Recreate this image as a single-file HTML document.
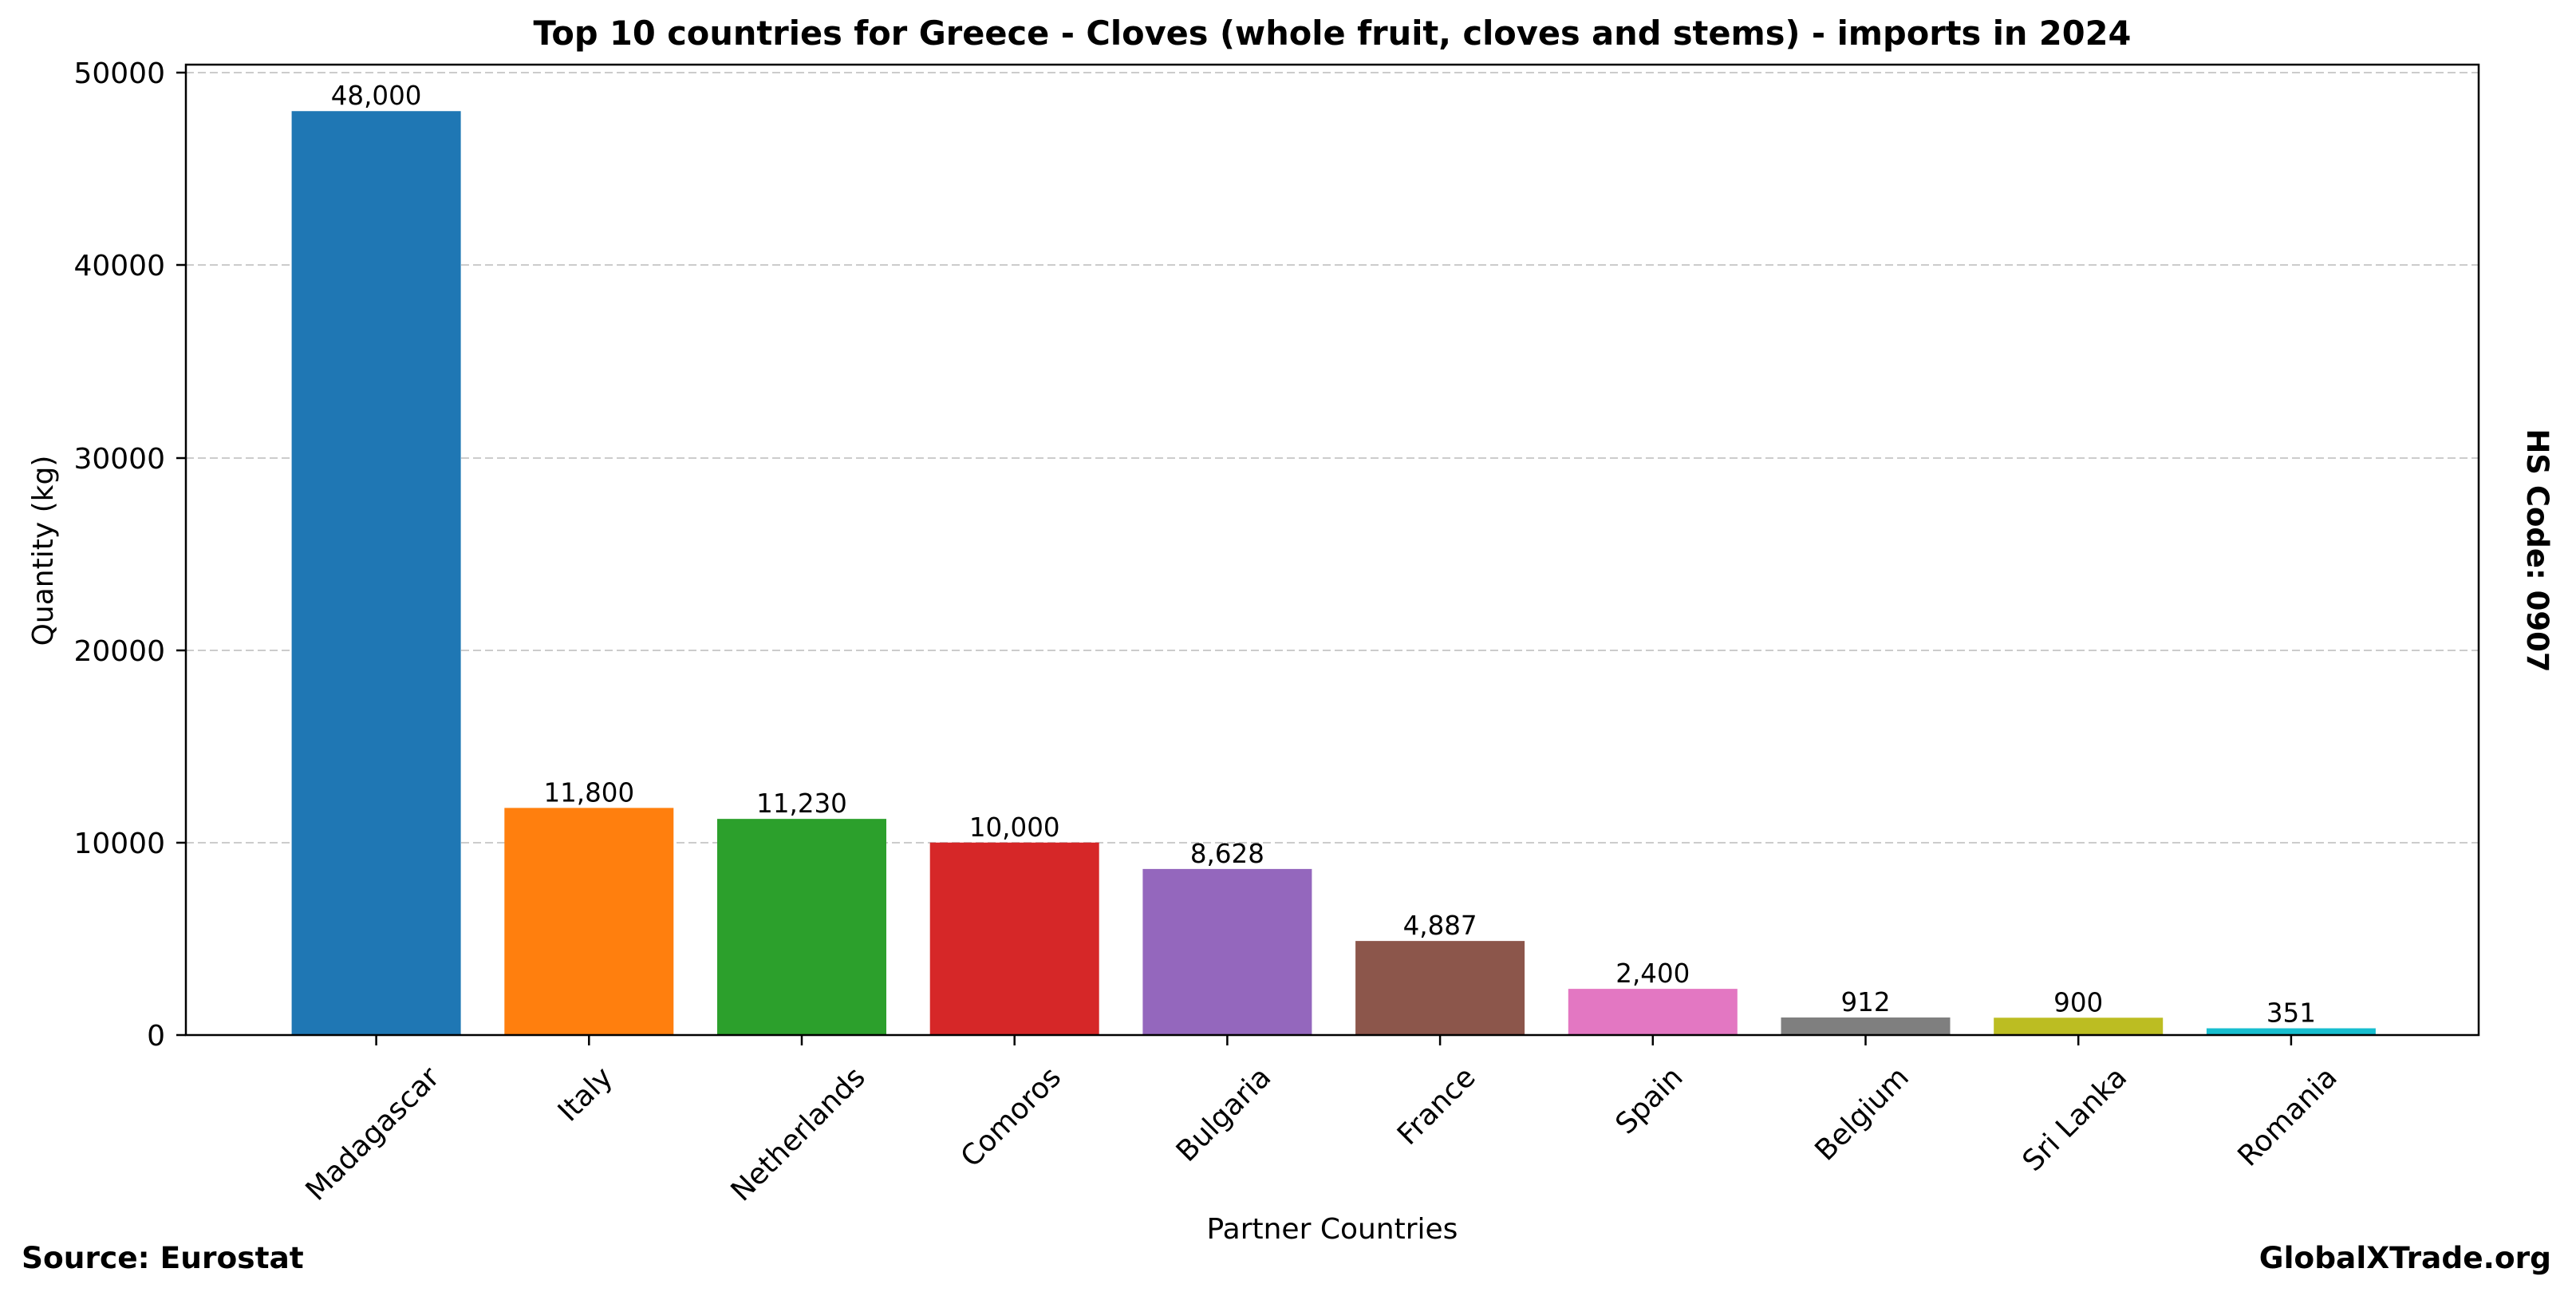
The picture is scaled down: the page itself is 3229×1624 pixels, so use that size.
<!DOCTYPE html>
<html><head><meta charset="utf-8"><style>
html,body{margin:0;padding:0;background:#fff;}
svg{display:block;font-family:"DejaVu Sans","Liberation Sans",sans-serif;}
</style></head><body>
<svg id="s" width="3229" height="1624" viewBox="0 0 3229 1624" xmlns="http://www.w3.org/2000/svg">
<rect width="3229" height="1624" fill="#fff"/>
<text x="1670" y="56" font-size="41.5" font-weight="bold" text-anchor="middle">Top 10 countries for Greece - Cloves (whole fruit, cloves and stems) - imports in 2024</text>
<g stroke="#cccccc" stroke-width="2" stroke-dasharray="10,5">
<line x1="233" x2="3107" y1="91" y2="91"/>
<line x1="233" x2="3107" y1="332" y2="332"/>
<line x1="233" x2="3107" y1="574" y2="574"/>
<line x1="233" x2="3107" y1="815" y2="815"/>
<line x1="233" x2="3107" y1="1056" y2="1056"/>
</g>
<g id="bars"></g>
<rect x="233" y="81" width="2874" height="1216" fill="none" stroke="#000" stroke-width="2.5"/>
<g font-size="36" text-anchor="end">
<g stroke="#000" stroke-width="2.5">
<line x1="221" x2="233" y1="1297" y2="1297"/><line x1="221" x2="233" y1="1056" y2="1056"/><line x1="221" x2="233" y1="815" y2="815"/><line x1="221" x2="233" y1="574" y2="574"/><line x1="221" x2="233" y1="332" y2="332"/><line x1="221" x2="233" y1="91" y2="91"/>
</g>
<text x="207" y="1310">0</text><text x="207" y="1069">10000</text><text x="207" y="828">20000</text><text x="207" y="587">30000</text><text x="207" y="345">40000</text><text x="207" y="104">50000</text>
</g>
<text transform="translate(66,690) rotate(-90)" font-size="36" text-anchor="middle">Quantity (kg)</text>
<text x="1670" y="1552" font-size="36" text-anchor="middle">Partner Countries</text>
<text x="27" y="1589" font-size="37.5" font-weight="bold">Source: Eurostat</text>
<text x="3198" y="1589" font-size="37.5" font-weight="bold" text-anchor="end">GlobalXTrade.org</text>
<text transform="translate(3168,690) rotate(90)" font-size="37" font-weight="bold" text-anchor="middle">HS Code: 0907</text>
</svg>
<script>
var d=[["Madagascar",48000,"#1f77b4","48,000"],["Italy",11800,"#ff7f0e","11,800"],["Netherlands",11230,"#2ca02c","11,230"],["Comoros",10000,"#d62728","10,000"],["Bulgaria",8628,"#9467bd","8,628"],["France",4887,"#8c564b","4,887"],["Spain",2400,"#e377c2","2,400"],["Belgium",912,"#7f7f7f","912"],["Sri Lanka",900,"#bcbd22","900"],["Romania",351,"#17becf","351"]];
var g=document.getElementById("bars"),ns="http://www.w3.org/2000/svg",s=document.getElementById("s");
function el(t,a,p){var e=document.createElementNS(ns,t);for(var k in a)e.setAttribute(k,a[k]);(p||g).appendChild(e);return e;}
d.forEach(function(r,i){
 var cx=471.6+i*266.7,h=r[1]/10000*241.2,y=1297-h;
 el("rect",{x:cx-106,y:y,width:212,height:h,fill:r[2]});
 var t=el("text",{x:cx,y:y-8,"font-size":32.5,"text-anchor":"middle"});t.textContent=r[3];
 el("line",{x1:cx,x2:cx,y1:1297,y2:1310,stroke:"#000","stroke-width":2.5},s);
 var lt=el("text",{"font-size":36,"text-anchor":"end"},s);lt.textContent=r[0];
 var len; try{len=lt.getComputedTextLength();}catch(e){len=r[0].length*21;}
 if(!len)len=r[0].length*21;
 var hh=42, w=(len+hh)/Math.SQRT2;
 var px=cx+w/2-11, py=1352;
 lt.setAttribute("transform","translate("+px+","+py+") rotate(-45)");
});
</script>
</body></html>
